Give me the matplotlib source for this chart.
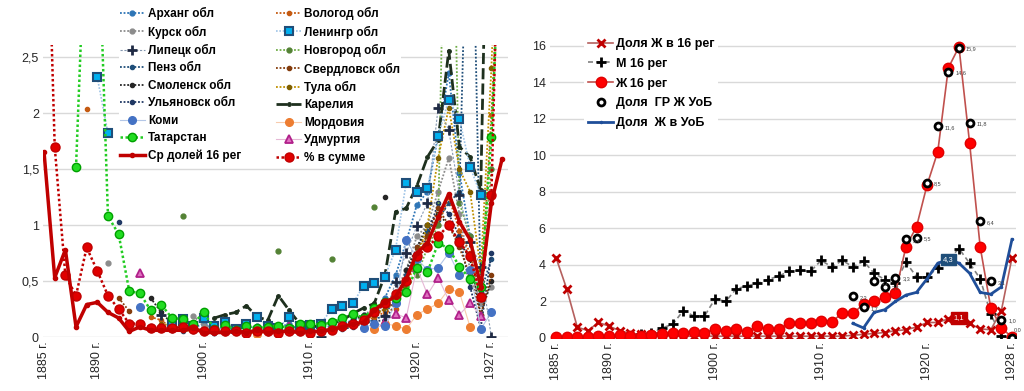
import numpy as np
import matplotlib
matplotlib.use("Agg")
import matplotlib.pyplot as plt

plt.rcParams['font.family'] = ['Liberation Sans', 'DejaVu Sans']

n = None
years = list(range(1885, 1929))

# ---------------- left chart: shares by region (1885..1928) ----------------
arkh = [n, n, n, n, n, n, n, n, n, n,
        n, n, 0.10, 0.14, 0.08, 0.12, 0.06, 0.10, 0.05, 0.08,
        0.10, 0.06, 0.08, 0.12, 0.06, 0.10, 0.08, 0.10, 0.12, 0.15,
        0.20, 0.12, 0.35, 0.55, 0.85, 1.18, 1.30, 1.80, 2.36, 1.47,
        0.90, 0.30, n, n]
kursk = [n, n, n, n, n, n, 0.66, n, n, n,
         n, n, n, n, 0.19, 0.10, 0.08, 0.06, 0.07, 0.05,
         0.08, 0.06, 0.05, 0.07, 0.06, 0.05, 0.07, 0.08, 0.10, 0.12,
         0.20, 0.25, 0.30, 0.40, 0.60, 0.90, 1.00, 1.30, 1.60, 1.10,
         0.60, 0.30, 0.45, n]
lipetsk = [n, n, n, n, n, n, n, n, n, n,
           n, 0.20, n, n, n, n, n, n, n, n,
           n, n, n, n, n, n, 0.00, n, n, n,
           n, n, 0.19, 0.49, 0.75, 0.99, 1.20, 2.05, 1.85, 1.27,
           0.85, 0.63, 0.00, n]
penz = [n, n, n, n, n, n, n, n, n, n,
        0.10, 0.08, 0.06, 0.07, 0.05, 0.06, 0.04, 0.05, 0.06, 0.04,
        0.05, 0.04, 0.06, 0.05, 0.04, 0.05, 0.06, 0.07, 0.08, 0.10,
        0.12, 0.15, 0.20, 0.35, 0.55, 0.80, 0.95, 1.05, 1.20, 1.30,
        5.00, 0.40, 0.70, n]
smolensk = [n, n, n, n, n, n, n, n, n, n,
            0.35, 0.22, 0.12, 0.10, 0.08, 0.06, 0.07, 0.05, 0.06, 0.05,
            0.07, 0.06, 0.05, 0.06, 0.07, 0.06, 0.05, 0.07, 0.10, 0.15,
            0.20, n, 1.25, n, 0.60, 0.80, 1.00, 1.10, 1.00, 0.85,
            0.70, 0.20, 0.50, n]
ulyan = [n, n, n, n, n, n, n, 1.03, n, n,
         n, n, 0.06, 0.05, 0.07, 0.05, 0.04, 0.06, 0.05, 0.04,
         0.06, 0.05, 0.04, 0.05, 0.06, 0.05, 0.04, 0.06, 0.07, 0.09,
         0.12, 0.14, 0.15, 0.30, 0.50, 0.70, 0.90, 1.20, 1.10, 0.90,
         0.45, 0.08, 0.75, n]
komi = [n, n, n, n, n, n, n, n, n, 0.27,
        n, n, n, n, n, n, n, n, n, n,
        n, n, n, n, n, n, n, n, n, n,
        0.08, 0.12, 0.10, 0.30, 0.87, 0.70, 0.60, 0.62, 0.75, 0.55,
        0.60, 0.07, 0.22, n]
tatar = [n, n, n, 1.52, 4.0, 4.0, 1.08, 0.92, 0.41, 0.39,
         0.24, 0.29, 0.17, 0.16, 0.12, 0.22, 0.07, 0.11, 0.06, 0.10,
         0.08, 0.09, 0.10, 0.08, 0.12, 0.12, 0.11, 0.13, 0.17, 0.21,
         0.17, 0.26, 0.31, 0.35, 0.40, 0.62, 0.58, 0.84, 0.79, 0.63,
         0.52, 0.45, 1.79, 4.0]
sr_dolei = [1.65, 0.53, 0.78, 0.09, 0.29, 0.31, 0.22, 0.17, 0.05, 0.09,
            0.06, 0.06, 0.06, 0.06, 0.08, 0.04, 0.04, 0.04, 0.05, 0.04,
            0.06, 0.04, 0.05, 0.05, 0.04, 0.05, 0.05, 0.07, 0.09, 0.12,
            0.13, 0.24, 0.31, 0.36, 0.52, 0.75, 0.84, 1.07, 1.28, 1.03,
            0.87, 0.45, 1.20, 1.59]
vologda = [n, n, n, n, 2.04, n, n, n, n, n,
           0.18, 0.15, 0.08, 0.06, 0.05, 0.07, 0.05, 0.04, 0.06, 0.04,
           0.03, 0.05, 0.06, 0.04, 0.05, 0.06, 0.05, 0.06, 0.08, 0.10,
           0.12, 0.18, 0.22, 0.25, 0.50, 0.70, 0.90, 1.00, 1.25, 0.95,
           0.75, 0.35, 1.98, 4.0]
lening = [n, n, n, n, n, 2.32, 1.82, n, n, n,
          n, n, 0.12, 0.16, 0.10, 0.17, 0.10, 0.13, 0.07, 0.12,
          0.18, 0.10, 0.08, 0.18, 0.10, 0.11, 0.12, 0.25, 0.28, 0.30,
          0.46, 0.48, 0.54, 0.78, 1.38, 1.30, 1.33, 1.80, 2.12, 1.95,
          1.52, 1.27, n, n]
novg = [n, n, n, n, n, n, n, n, n, n,
        n, n, n, 1.08, n, n, n, n, n, n,
        n, n, 0.77, n, n, n, n, 0.70, n, n,
        n, 1.16, n, n, n, 0.55, 0.80, 1.00, 6.00, 1.20,
        0.90, 0.50, 1.50, n]
sverd = [n, n, n, n, n, n, n, 0.35, 0.23, n,
         n, n, n, n, n, n, n, n, n, n,
         n, n, n, n, n, n, n, n, 0.08, 0.12,
         0.15, 0.20, 0.25, 0.30, 0.50, 0.80, 0.90, 1.15, 1.00, 0.80,
         0.55, 0.20, 0.55, n]
tula = [n, n, n, n, n, n, n, n, n, n,
        n, 0.12, 0.10, 0.08, 0.06, 0.05, 0.07, 0.05, 0.04, 0.06,
        0.05, 0.04, 0.06, 0.05, 0.07, 0.06, 0.05, 0.08, 0.10, 0.12,
        0.15, 0.20, 0.25, 0.30, 0.45, 0.70, 1.00, 1.60, 2.05, 1.50,
        1.30, 0.60, 2.40, 5.0]
karelia = [n, n, n, n, n, n, n, n, n, n,
           n, n, n, n, n, n, 0.17, 0.20, 0.22, 0.28,
           0.18, 0.15, 0.37, 0.24, 0.12, 0.08, 0.11, 0.12, 0.15, 0.21,
           0.26, 0.30, 0.55, 1.12, 1.15, 1.35, 1.61, 1.76, 2.56, 1.70,
           1.61, 1.31, 6.00, n]
mord = [n, n, n, n, n, n, n, n, n, n,
        n, n, n, n, n, n, n, n, n, n,
        0.03, n, n, n, n, n, n, n, n, n,
        n, 0.07, 0.12, 0.10, 0.07, 0.20, 0.25, 0.30, 0.43, 0.40,
        0.09, n, n, n]
udm = [n, n, n, n, n, n, n, n, n, 0.57,
       n, n, n, n, n, n, n, n, n, n,
       n, n, n, 0.10, n, n, n, n, n, n,
       n, n, 0.13, 0.21, 0.17, 0.62, 0.38, 0.53, 0.33, 0.20,
       0.30, 0.19, n, n]
pct_sum = [5.0, 1.70, 0.55, 0.37, 0.80, 0.59, 0.37, 0.25, 0.12, 0.12,
           0.08, 0.08, 0.08, 0.09, 0.07, 0.05, 0.06, 0.05, 0.05, 0.04,
           0.05, 0.05, 0.04, 0.05, 0.05, 0.04, 0.05, 0.06, 0.10, 0.12,
           0.15, 0.22, 0.30, 0.38, 0.50, 0.72, 0.80, 0.90, 1.00, 0.85,
           0.72, 0.36, 1.27, 5.0]

# ---------------- right chart (1885..1928) ----------------
dolya_zh16 = [4.4, 2.7, 0.6, 0.4, 0.85, 0.65, 0.4, 0.25, 0.2, 0.15,
              0.15, 0.1, 0.1, 0.1, 0.1, 0.1, 0.1, 0.1, 0.1, 0.1,
              0.1, 0.1, 0.1, 0.1, 0.1, 0.1, 0.1, 0.1, 0.15, 0.2,
              0.25, 0.3, 0.4, 0.45, 0.6, 0.85, 0.85, 1.05, 1.1, 0.8,
              0.5, 0.45, 1.5, 4.4]
m16 = [n, n, n, n, n, n, n, n, 0.2, 0.25,
       0.55, 0.75, 1.5, 1.2, 1.2, 2.15, 2.0, 2.7, 2.85, 3.0,
       3.2, 3.4, 3.65, 3.7, 3.65, 4.25, 3.9, 4.25, 3.9, 4.2,
       3.55, 3.2, 3.0, 4.15, 3.35, 3.35, 3.85, 4.3, 4.9, 4.1,
       3.25, 1.3, 0.1, 0.0]
zh16 = [0.05, 0.05, 0.03, 0.05, 0.1, 0.12, 0.15, 0.12, 0.12, 0.15,
        0.2, 0.3, 0.3, 0.35, 0.3, 0.5, 0.4, 0.5, 0.35, 0.65,
        0.5, 0.5, 0.8, 0.8, 0.8, 0.95, 0.9, 1.35, 1.35, 1.85,
        2.0, 2.25, 2.45, 5.0, 6.1, 8.4, 10.2, 14.8, 15.95, 10.7,
        5.0, 1.65, 0.55, 0.05]
gr_zh_uob = [n] * 28 + [2.3, 1.7, 3.1, 2.8, 3.3, 5.4, 5.5, 8.5, 11.6, 14.6,
                        15.9, 11.8, 6.4, 3.1, 1.0, 0.0]
dolya_zh_uob = [n] * 28 + [0.8, 0.55, 1.4, 1.55, 2.0, 2.35, 2.5, 3.25, 4.1, 4.3,
                           4.1, 3.55, 2.5, 2.4, 2.8, 5.4]

left_ticks = [1885, 1890, 1900, 1910, 1920, 1927]
right_ticks = [1885, 1890, 1900, 1910, 1920, 1928]

x = np.arange(len(years))


def arr(v):
    return np.array(v, dtype=float)


fig = plt.figure(figsize=(10.24, 3.91), dpi=100)
axL = fig.add_axes([43 / 1024, 1 - 337 / 391, 465 / 1024, 292 / 391])
axR = fig.add_axes([550 / 1024, 1 - 338 / 391, 466 / 1024, 303 / 391])

dot = (0, (1, 1))
handles = {}

def draw(key, vals, **kw):
    h, = axL.plot(x, arr(vals), **kw)
    handles[key] = h

# thin background series
draw('Арханг обл', arkh, color='#2E75B6', ls=dot, lw=1.3, marker='o', ms=3.5)
draw('Курск обл', kursk, color='#8C8C8C', ls=dot, lw=1.3, marker='o', ms=3.5)
draw('Пенз обл', penz, color='#1F4E79', ls=dot, lw=1.3, marker='o', ms=3)
draw('Смоленск обл', smolensk, color='#262626', ls=dot, lw=1.3, marker='o', ms=3)
draw('Ульяновск обл', ulyan, color='#203864', ls=dot, lw=1.3, marker='o', ms=3)
draw('Вологод обл', vologda, color='#C55A11', ls=dot, lw=1.3, marker='o', ms=3)
draw('Новгород обл', novg, color='#70AD47', ls=dot, lw=1.3, marker='o', ms=3.5,
     mfc='#548235', mec='#548235')
draw('Свердловск обл', sverd, color='#843C0C', ls=dot, lw=1.3, marker='o', ms=3)
draw('Тула обл', tula, color='#BF9000', ls=dot, lw=1.3, marker='o', ms=3,
     mfc='#7F6000', mec='#7F6000')
draw('Мордовия', mord, color='#F8CBAD', lw=0.8, marker='o', ms=5.5,
     mfc='#ED7D31', mec='#ED7D31')
draw('Удмуртия', udm, color='#E6B8D6', lw=0.8, marker='^', ms=5.5,
     mfc='#E070C0', mec='#B0208A', mew=1.3)
draw('Коми', komi, color='#B4C7E7', lw=0.8, marker='o', ms=5.5,
     mfc='#4472C4', mec='#4472C4')
draw('Липецк обл', lipetsk, color='#8497B0', ls=(0, (2, 1.5)), lw=0.8, marker='+',
     ms=7.5, mew=2, mfc='#1F2A44', mec='#1F2A44')
draw('Карелия', karelia, color='#1E301E', ls=(0, (4, 1.5)), lw=2, marker='o', ms=2.5)
draw('Ленингр обл', lening, color='#9DC3E6', ls=dot, lw=1.2, marker='s', ms=5.5,
     mfc='#00B0F0', mec='#1F4E79', mew=1.5)
draw('Татарстан', tatar, color='#22CC22', ls=dot, lw=1.8, marker='o', ms=6,
     mfc='#22DD22', mec='#00A000')
draw('% в сумме', pct_sum, color='#C00000', ls=dot, lw=1.8, marker='o', ms=6.5,
     mfc='#E00000', mec='#C00000')
draw('Ср долей 16 рег', sr_dolei, color='#C00000', lw=2.5, marker='o', ms=3)

col1 = ['Арханг обл', 'Курск обл', 'Липецк обл', 'Пенз обл', 'Смоленск обл',
        'Ульяновск обл', 'Коми', 'Татарстан', 'Ср долей 16 рег']
col2 = ['Вологод обл', 'Ленингр обл', 'Новгород обл', 'Свердловск обл', 'Тула обл',
        'Карелия', 'Мордовия', 'Удмуртия', '% в сумме']
order = col1 + col2
legL = axL.legend([handles[k] for k in order], order, ncol=2, loc='upper left',
                  bbox_to_anchor=(113 / 1024, 1.0), bbox_transform=fig.transFigure,
                  prop={'weight': 'bold', 'size': 8.5}, labelspacing=0.46,
                  handlelength=2.1, handletextpad=0.25, columnspacing=3.0,
                  borderpad=0.1, facecolor='white', edgecolor='none', framealpha=1)
legL.set_zorder(20)

axL.set_xlim(-0.1, 43.56)
axL.set_ylim(0, 2.61)
axL.set_yticks([0, 0.5, 1, 1.5, 2, 2.5])
axL.set_yticklabels(['0', '0,5', '1', '1,5', '2', '2,5'])
axL.set_xticks([years.index(y) for y in left_ticks])
axL.set_xticklabels([f'{y} г.' for y in left_ticks], rotation=90)

# ---------------- right chart ----------------
axR.plot(x, arr(dolya_zh16), color='#B5605E', lw=1.2, marker='x', ms=5.5, mew=2,
         mec='#C00000', label='Доля Ж в 16 рег', zorder=3)
axR.plot(x, arr(m16), color='#808080', ls=(0, (3, 2)), lw=1.2, marker='+', ms=7.5, mew=2,
         mec='black', label='М 16 рег', zorder=3)
axR.plot(x, arr(zh16), color='#C0504D', lw=1.2, marker='o', ms=7.5, mfc='#FF0000',
         mec='#E00000', label='Ж 16 рег', zorder=3)
axR.plot(x, arr(gr_zh_uob), ls='none', marker='o', ms=5, mfc='white', mec='black',
         mew=2, label='Доля  ГР Ж УоБ', zorder=4)
axR.plot(x, arr(dolya_zh_uob), color='#1F4E99', lw=2, marker='.', ms=3,
         label='Доля  Ж в УоБ', zorder=3)

last = len(gr_zh_uob) - 1
for xi, v in zip(x, gr_zh_uob):
    if v is not None:
        off = (5, -1) if xi < last else (1, 6)
        axR.annotate(f'{v:.1f}'.replace('.', ','), (xi, v), xytext=off,
                     textcoords='offset points', fontsize=4, color='#404040',
                     va='center', zorder=5)

i22 = years.index(1922)
axR.annotate('4,3', (i22, dolya_zh_uob[i22]), ha='center', va='center', fontsize=5.5,
             color='white', zorder=6,
             bbox=dict(boxstyle='square,pad=0.3', fc='#1F4E79', ec='#1F4E79'))
i23 = years.index(1923)
axR.annotate('1,1', (i23, dolya_zh16[i23]), ha='center', va='center', fontsize=5.5,
             color='white', zorder=6,
             bbox=dict(boxstyle='square,pad=0.3', fc='#C00000', ec='#C00000'))

legR = axR.legend(loc='upper left', bbox_to_anchor=(578 / 1024, 1 - 28 / 391),
                  bbox_transform=fig.transFigure,
                  prop={'weight': 'bold', 'size': 9}, labelspacing=0.62,
                  handlelength=2.0, handletextpad=0.2, borderpad=0.3,
                  facecolor='white', edgecolor='none', framealpha=1)
legR.set_zorder(20)

axR.set_xlim(-0.57, 43.38)
axR.set_ylim(0, 16.6)
axR.set_yticks(range(0, 17, 2))
axR.set_xticks([years.index(y) for y in right_ticks])
axR.set_xticklabels([f'{y} г.' for y in right_ticks], rotation=90)

for ax in (axL, axR):
    for s in ax.spines.values():
        s.set_visible(False)
    ax.grid(axis='y', color='#D9D9D9', lw=1)
    ax.set_axisbelow(True)
    ax.tick_params(length=0, labelsize=9, colors='#262626', pad=3)

fig.savefig('out.png', dpi=100)
